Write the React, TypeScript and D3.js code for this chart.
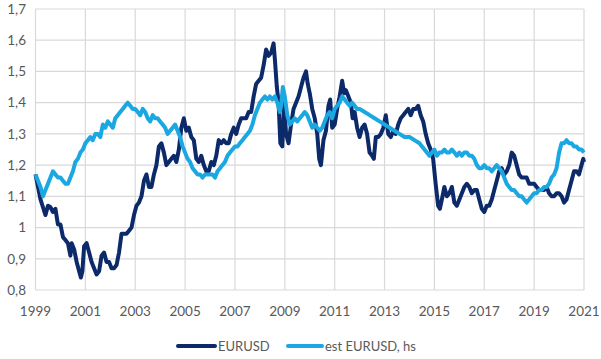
import * as d3 from "d3";

const eurusdDates = [
  1999.0, 1999.1, 1999.2, 1999.3, 1999.4, 1999.5, 1999.6, 1999.7, 1999.8, 1999.9,
  2000.0, 2000.1, 2000.2, 2000.3, 2000.4, 2000.45, 2000.55, 2000.65, 2000.75, 2000.82, 2000.88, 2000.95,
  2001.05, 2001.15, 2001.25, 2001.35, 2001.45, 2001.55, 2001.65, 2001.75, 2001.85, 2001.95,
  2002.05, 2002.15, 2002.25, 2002.35, 2002.45, 2002.55, 2002.65, 2002.75, 2002.85, 2002.95,
  2003.05, 2003.15, 2003.25, 2003.35, 2003.45, 2003.55, 2003.65, 2003.75, 2003.85, 2003.95,
  2004.05, 2004.15, 2004.25, 2004.35, 2004.45, 2004.55, 2004.65, 2004.75, 2004.85, 2004.95,
  2005.05, 2005.15, 2005.25, 2005.35, 2005.45, 2005.55, 2005.65, 2005.75, 2005.85, 2005.95,
  2006.05, 2006.15, 2006.25, 2006.35, 2006.45, 2006.55, 2006.65, 2006.75, 2006.85, 2006.95,
  2007.05, 2007.15, 2007.25, 2007.35, 2007.45, 2007.55, 2007.65, 2007.75, 2007.85, 2007.95,
  2008.05, 2008.15, 2008.25, 2008.35, 2008.45, 2008.55, 2008.6, 2008.68, 2008.75, 2008.82, 2008.9, 2008.97,
  2009.05, 2009.15, 2009.25, 2009.35, 2009.45, 2009.55, 2009.65, 2009.75, 2009.85, 2009.92,
  2010.0, 2010.1, 2010.2, 2010.3, 2010.38, 2010.45, 2010.55, 2010.65, 2010.75, 2010.82, 2010.9,
  2011.0, 2011.1, 2011.2, 2011.3, 2011.38, 2011.45, 2011.55, 2011.65, 2011.72, 2011.8, 2011.9,
  2012.0, 2012.1, 2012.2, 2012.3, 2012.4, 2012.5, 2012.57, 2012.65, 2012.75, 2012.85, 2012.95,
  2013.05, 2013.15, 2013.25, 2013.35, 2013.45, 2013.55, 2013.65, 2013.75, 2013.85, 2013.95,
  2014.05, 2014.15, 2014.25, 2014.35, 2014.45, 2014.55, 2014.65, 2014.75, 2014.85, 2014.95,
  2015.05, 2015.15, 2015.22, 2015.3, 2015.4, 2015.5, 2015.6, 2015.7, 2015.8, 2015.9,
  2016.0, 2016.1, 2016.2, 2016.3, 2016.4, 2016.5, 2016.6, 2016.7, 2016.8, 2016.9,
  2017.0, 2017.1, 2017.2, 2017.3, 2017.4, 2017.5, 2017.6, 2017.7, 2017.8, 2017.9,
  2018.0, 2018.1, 2018.2, 2018.3, 2018.4, 2018.5, 2018.6, 2018.7, 2018.8, 2018.9,
  2019.0, 2019.1, 2019.2, 2019.3, 2019.4, 2019.5, 2019.6, 2019.7, 2019.8, 2019.9,
  2020.0, 2020.1, 2020.2, 2020.3, 2020.4, 2020.5, 2020.6, 2020.7, 2020.8, 2020.9, 2020.97, 2021.0,
];
const eurusdValues = [
  1.17, 1.13, 1.09, 1.065, 1.04, 1.07, 1.065, 1.05, 1.06, 1.01,
  1.01, 0.97, 0.96, 0.95, 0.91, 0.95, 0.93, 0.89, 0.86, 0.84, 0.86, 0.94,
  0.95, 0.92, 0.89, 0.87, 0.85, 0.86, 0.91, 0.92, 0.89, 0.89,
  0.87, 0.87, 0.88, 0.92, 0.98, 0.98, 0.98, 0.99, 1.0, 1.04,
  1.07, 1.08, 1.1, 1.15, 1.17, 1.13, 1.13, 1.17, 1.2, 1.26,
  1.27, 1.24, 1.2, 1.21, 1.22, 1.23, 1.21, 1.25, 1.32, 1.35,
  1.31, 1.32, 1.29, 1.28, 1.22, 1.21, 1.23, 1.2, 1.18, 1.18,
  1.21, 1.2, 1.23, 1.28, 1.27, 1.28, 1.27, 1.27, 1.3, 1.32,
  1.3, 1.33, 1.35, 1.35, 1.35, 1.37, 1.37, 1.42, 1.46, 1.47,
  1.48, 1.52, 1.57, 1.55, 1.56, 1.59, 1.54, 1.45, 1.4, 1.27, 1.26, 1.4,
  1.3, 1.27, 1.33, 1.38, 1.4, 1.42, 1.45, 1.48, 1.5, 1.46,
  1.43, 1.38, 1.35, 1.3, 1.22, 1.2, 1.28, 1.31, 1.39, 1.41, 1.32,
  1.33, 1.38, 1.42, 1.47, 1.43, 1.44, 1.42, 1.4, 1.35, 1.37, 1.32,
  1.29, 1.32, 1.33, 1.3, 1.24, 1.23, 1.22, 1.29, 1.29, 1.3, 1.32,
  1.36, 1.3, 1.29, 1.31, 1.3, 1.33, 1.35, 1.36, 1.37, 1.38,
  1.36, 1.38, 1.38, 1.39, 1.36, 1.34, 1.3, 1.27, 1.25, 1.22,
  1.14, 1.07, 1.06, 1.09, 1.13, 1.1, 1.11, 1.13, 1.08, 1.07,
  1.09, 1.11, 1.13, 1.14, 1.13, 1.11, 1.12, 1.12, 1.09, 1.06,
  1.05, 1.07, 1.07, 1.09, 1.12, 1.15, 1.18, 1.19, 1.17, 1.18,
  1.2, 1.24, 1.23, 1.2, 1.17, 1.16, 1.16, 1.16, 1.14, 1.14,
  1.14, 1.13, 1.12, 1.12, 1.12, 1.13, 1.11, 1.1, 1.1, 1.11,
  1.11, 1.1, 1.08, 1.09, 1.12, 1.15, 1.18, 1.18, 1.17, 1.2, 1.22, 1.21,
];

const estDates = [
  1999.0, 1999.1, 1999.2, 1999.3, 1999.4, 1999.5, 1999.6, 1999.7, 1999.8, 1999.9,
  2000.0, 2000.1, 2000.2, 2000.3, 2000.4, 2000.5, 2000.6, 2000.7, 2000.8, 2000.9,
  2001.0, 2001.1, 2001.2, 2001.3, 2001.4, 2001.5, 2001.6, 2001.7, 2001.8, 2001.9,
  2002.0, 2002.1, 2002.2, 2002.3, 2002.4, 2002.5, 2002.6, 2002.7, 2002.8, 2002.9,
  2003.0, 2003.1, 2003.2, 2003.3, 2003.4, 2003.5, 2003.6, 2003.7, 2003.8, 2003.9,
  2004.0, 2004.1, 2004.2, 2004.3, 2004.4, 2004.5, 2004.6, 2004.7, 2004.8, 2004.9,
  2005.0, 2005.1, 2005.2, 2005.3, 2005.4, 2005.5, 2005.6, 2005.7, 2005.8, 2005.9,
  2006.0, 2006.1, 2006.2, 2006.3, 2006.4, 2006.5, 2006.6, 2006.7, 2006.8, 2006.9,
  2007.0, 2007.1, 2007.2, 2007.3, 2007.4, 2007.5, 2007.6, 2007.7, 2007.8, 2007.9,
  2008.0, 2008.1, 2008.2, 2008.3, 2008.4, 2008.5, 2008.6, 2008.7, 2008.8, 2008.85, 2008.92,
  2009.0, 2009.1, 2009.2, 2009.3, 2009.4, 2009.5, 2009.6, 2009.7, 2009.8, 2009.9,
  2010.0, 2010.1, 2010.2, 2010.3, 2010.4, 2010.5, 2010.6, 2010.7, 2010.8, 2010.9,
  2011.0, 2011.1, 2011.2, 2011.3, 2011.4, 2011.5, 2011.6, 2011.7, 2011.8, 2011.9,
  2012.0, 2012.2, 2012.4, 2012.6, 2012.8, 2013.0, 2013.2, 2013.4, 2013.6, 2013.8,
  2014.0, 2014.2, 2014.4, 2014.6, 2014.7, 2014.8, 2014.9,
  2015.0, 2015.1, 2015.2, 2015.3, 2015.4, 2015.5, 2015.6, 2015.7, 2015.8, 2015.9,
  2016.0, 2016.1, 2016.2, 2016.3, 2016.4, 2016.5, 2016.6, 2016.7, 2016.8, 2016.9,
  2017.0, 2017.1, 2017.2, 2017.3, 2017.4, 2017.5, 2017.6, 2017.7, 2017.8, 2017.9,
  2018.0, 2018.1, 2018.2, 2018.3, 2018.4, 2018.5, 2018.6, 2018.7, 2018.8, 2018.9,
  2019.0, 2019.1, 2019.2, 2019.3, 2019.4, 2019.5, 2019.6, 2019.7, 2019.8, 2019.9,
  2020.0, 2020.1, 2020.2, 2020.3, 2020.4, 2020.5, 2020.6, 2020.7, 2020.8, 2020.9, 2021.0,
];
const estValues = [
  1.17, 1.15, 1.13, 1.1, 1.12, 1.14, 1.16, 1.18, 1.17, 1.16,
  1.16, 1.15, 1.14, 1.14, 1.16, 1.18, 1.21, 1.22, 1.24, 1.25,
  1.27, 1.28, 1.29, 1.28, 1.3, 1.3, 1.29, 1.33, 1.32, 1.34,
  1.33, 1.32, 1.35, 1.36, 1.37, 1.38, 1.39, 1.4, 1.39, 1.38,
  1.38, 1.37, 1.36, 1.38, 1.37, 1.35, 1.34, 1.36, 1.35, 1.35,
  1.34, 1.33, 1.32, 1.3, 1.31, 1.32, 1.33, 1.31, 1.29, 1.26,
  1.24, 1.22, 1.21, 1.19, 1.18, 1.17, 1.17, 1.16, 1.17, 1.17,
  1.17, 1.17, 1.16, 1.18, 1.19, 1.2, 1.21, 1.23, 1.24, 1.25,
  1.26, 1.26, 1.27, 1.28, 1.29, 1.3, 1.31, 1.33, 1.36, 1.38,
  1.4, 1.41, 1.42, 1.41, 1.42, 1.41, 1.42, 1.4, 1.37, 1.39, 1.45,
  1.42, 1.36, 1.33, 1.34, 1.35, 1.34, 1.35, 1.36, 1.37, 1.36,
  1.34, 1.32, 1.33, 1.32, 1.31, 1.32, 1.34, 1.36, 1.37, 1.35,
  1.38, 1.39, 1.4, 1.42, 1.41, 1.4, 1.39, 1.4, 1.39, 1.38,
  1.38, 1.37, 1.36, 1.35, 1.34, 1.33, 1.32, 1.31, 1.3, 1.29,
  1.29, 1.28, 1.27, 1.25, 1.24, 1.23, 1.24,
  1.25, 1.23, 1.24, 1.24, 1.25, 1.24, 1.24, 1.25, 1.24, 1.23,
  1.24, 1.23, 1.24, 1.24, 1.23, 1.23, 1.22, 1.2, 1.19, 1.19,
  1.2, 1.19, 1.19, 1.18, 1.19, 1.2, 1.19, 1.18, 1.16, 1.14,
  1.13, 1.12, 1.12, 1.11, 1.1, 1.1, 1.09, 1.08, 1.09, 1.1,
  1.11, 1.11, 1.12, 1.12, 1.13, 1.13, 1.14, 1.16, 1.17, 1.19,
  1.24, 1.27, 1.27, 1.28, 1.27, 1.27, 1.26, 1.26, 1.25, 1.25, 1.24,
];

const yTicks = [0.8, 0.9, 1.0, 1.1, 1.2, 1.3, 1.4, 1.5, 1.6, 1.7];
const xTicks = [1999, 2001, 2003, 2005, 2007, 2009, 2011, 2013, 2015, 2017, 2019, 2021];

const width = 601;
const height = 359;
const margin = { top: 9, right: 17, bottom: 69, left: 35.5 };

const DARK = "#0c2a6a";
const LIGHT = "#1ba7e1";
const FONT = "Lato, 'Liberation Sans', sans-serif";

export default function App() {
  const x = d3.scaleLinear().domain([1999, 2021]).range([margin.left, width - margin.right]);
  const y = d3.scaleLinear().domain([0.8, 1.7]).range([height - margin.bottom, margin.top]);

  const fmt = (v: number) => (Math.round(v * 10) / 10).toString().replace(".", ",");

  const line = d3
    .line<[number, number]>()
    .x(d => x(d[0]))
    .y(d => y(d[1]));

  const eurusd = eurusdDates.map((d, i) => [d, eurusdValues[i]] as [number, number]);
  const est = estDates.map((d, i) => [d, estValues[i]] as [number, number]);

  const legendY = 346;

  return (
    <svg
      width={width}
      height={height}
      style={{ position: "absolute", left: 0, top: 0, background: "#fff" }}
      fontFamily={FONT}
    >
      {/* grid */}
      {yTicks.map(t => (
        <line key={"gy" + t} x1={x(1999)} x2={x(2021)} y1={y(t)} y2={y(t)} stroke="#d9d9d9" strokeWidth={1.2} />
      ))}
      {xTicks.map(t => (
        <line key={"gx" + t} x1={x(t)} x2={x(t)} y1={y(1.7)} y2={y(0.8)} stroke="#d9d9d9" strokeWidth={1.2} />
      ))}

      {/* y labels */}
      {yTicks.map(t => (
        <text key={"ly" + t} x={26} y={y(t)} dy="0.35em" textAnchor="end" fontSize={13.5} fill="#595959">
          {fmt(t)}
        </text>
      ))}
      {/* x labels */}
      {xTicks.map(t => (
        <text key={"lx" + t} x={x(t)} y={316} textAnchor="middle" fontSize={13.5} fill="#595959">
          {t}
        </text>
      ))}

      <path d={line(eurusd) ?? ""} fill="none" stroke={DARK} strokeWidth={4} strokeLinejoin="round" />
      <path d={line(est) ?? ""} fill="none" stroke={LIGHT} strokeWidth={4} strokeLinejoin="round" />

      {/* legend */}
      <line x1={178} x2={215} y1={legendY} y2={legendY} stroke={DARK} strokeWidth={4} strokeLinecap="round" />
      <text x={218} y={legendY} dy="0.35em" fontSize={13} fill="#595959">EURUSD</text>
      <line x1={288} x2={322} y1={legendY} y2={legendY} stroke={LIGHT} strokeWidth={4} strokeLinecap="round" />
      <text x={325} y={legendY} dy="0.35em" fontSize={13} fill="#595959">est EURUSD, hs</text>
    </svg>
  );
}
